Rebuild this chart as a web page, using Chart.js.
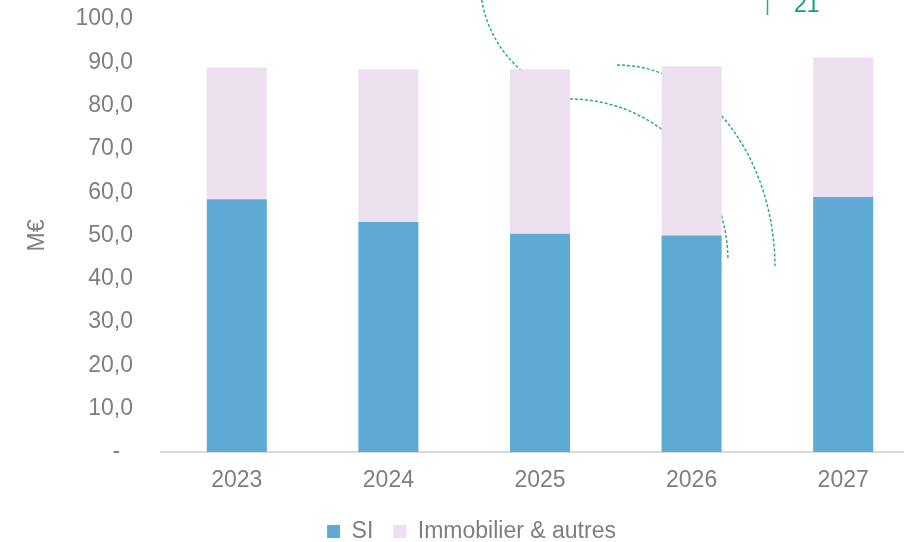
<!DOCTYPE html>
<html lang="fr">
<head>
<meta charset="utf-8">
<title>Budget SI et immobilier</title>
<script src="https://cdn.jsdelivr.net/npm/chart.js@4/dist/chart.umd.min.js"></script>
<style>
  html, body { margin: 0; padding: 0; background: #fff; overflow: hidden; }
  .wrap { position: relative; width: 904px; height: 542px; overflow: hidden; }
  .wrap canvas { position: absolute; left: 0; top: 0; }
</style>
</head>
<body>
<div class="wrap">
  <canvas id="budgetChart" width="920" height="553"></canvas>
</div>
<script>
// Années
const years = ['2023', '2024', '2025', '2026', '2027'];

// Montants en M€
const siData = [58.4, 53.1, 50.4, 50.0, 58.9];
const immoData = [30.4, 35.3, 38.0, 39.1, 32.2];

// Graduations de l'axe Y
const yTicks = [0, 10, 20, 30, 40, 50, 60, 70, 80, 90, 100];

const greyText = '#7f7f7f';
const teal = '#2bab85';
const font = { family: 'Arial, "Liberation Sans", sans-serif', size: 23 };

// Arcs pointillés et numéro de page en arrière-plan de la diapo
const slideDecor = {
  id: 'slideDecor',
  beforeDatasetsDraw(chart) {
    const ctx = chart.ctx;
    ctx.save();
    ctx.strokeStyle = teal;
    ctx.lineWidth = 1.5;
    ctx.setLineDash([3, 2]);
    ctx.beginPath();
    ctx.arc(600, -20, 120, Math.PI * 0.947, Math.PI * 0.6, true);
    ctx.stroke();
    ctx.beginPath();
    ctx.ellipse(570, 262, 158, 163, 0, -Math.PI / 2, -0.02);
    ctx.stroke();
    ctx.beginPath();
    ctx.ellipse(617, 268, 158, 203, 0, -Math.PI / 2, -0.01);
    ctx.stroke();
    ctx.restore();
  },
  afterDraw(chart) {
    const ctx = chart.ctx;
    ctx.save();
    ctx.strokeStyle = teal;
    ctx.lineWidth = 1.5;
    ctx.beginPath();
    ctx.moveTo(767.5, 0);
    ctx.lineTo(767.5, 15);
    ctx.stroke();
    ctx.fillStyle = '#12a07a';
    ctx.font = '23px Arial, "Liberation Sans", sans-serif';
    ctx.textBaseline = 'alphabetic';
    ctx.fillText('21', 794, 12);
    ctx.restore();
  }
};

const budgetCtx = document.getElementById('budgetChart').getContext('2d');
const budgetChart = new Chart(budgetCtx, {
  type: 'bar',
  data: {
    labels: years,
    datasets: [{
      label: 'SI',
      data: siData,
      backgroundColor: '#5eaad5',
      borderWidth: 0,
      barPercentage: 0.396,
      categoryPercentage: 1
    }, {
      label: 'Immobilier & autres',
      data: immoData,
      backgroundColor: '#ede0ef',
      borderWidth: 0,
      barPercentage: 0.396,
      categoryPercentage: 1
    }]
  },
  options: {
    responsive: false,
    animation: false,
    layout: {
      padding: { left: 24, right: 1, top: 19, bottom: 0 }
    },
    plugins: {
      legend: {
        position: 'bottom',
        labels: {
          color: greyText,
          font: font,
          boxWidth: 13,
          boxHeight: 13,
          padding: 20
        }
      },
      tooltip: { enabled: false }
    },
    scales: {
      x: {
        stacked: true,
        grid: { display: false, drawTicks: false },
        border: { display: true, color: '#d9d9d9', width: 2 },
        ticks: {
          color: greyText,
          font: font,
          padding: 15,
          maxRotation: 0
        },
        afterFit(scale) {
          scale.height = 48;
        }
      },
      y: {
        stacked: true,
        min: 0,
        max: 100,
        // tickLength sert d'espace entre les libellés et la zone du graphique
        grid: { display: false, drawTicks: true, tickLength: 28 },
        border: { display: false },
        title: {
          display: true,
          text: 'M€',
          color: greyText,
          font: font,
          padding: { top: 0, bottom: 0 }
        },
        afterBuildTicks(scale) {
          scale.ticks = yTicks.map(v => ({ value: v }));
        },
        ticks: {
          color: greyText,
          font: font,
          padding: 0,
          callback: (value) => value === 0 ? '-  ' : value.toFixed(1).replace('.', ',')
        },
        afterFit(scale) {
          scale.width = 137;
        }
      }
    }
  },
  plugins: [slideDecor]
});
</script>
</body>
</html>
